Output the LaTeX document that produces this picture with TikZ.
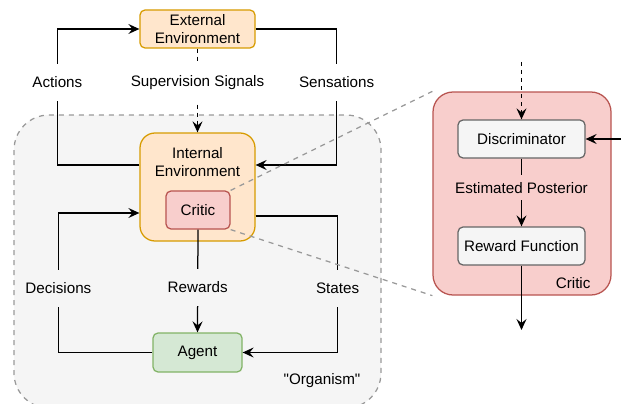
\documentclass[tikz,border=0pt]{standalone}
\usepackage{fontspec}
\newfontfamily\drawfont{Liberation Sans}
\usetikzlibrary{arrows.meta}

\definecolor{envfill}{HTML}{FFE6CC}
\definecolor{envline}{HTML}{D79B00}
\definecolor{criticfill}{HTML}{F8CECC}
\definecolor{criticline}{HTML}{B85450}
\definecolor{agentfill}{HTML}{D5E8D4}
\definecolor{agentline}{HTML}{82B366}
\definecolor{grayfill}{HTML}{F5F5F5}
\definecolor{grayline}{HTML}{666666}

\tikzset{
  box/.style={draw, line width=1.25pt, rounded corners=5pt, inner sep=0pt, align=center},
  envbox/.style={box, fill=envfill, draw=envline},
  criticbox/.style={box, fill=criticfill, draw=criticline},
  agentbox/.style={box, fill=agentfill, draw=agentline},
  graybox/.style={box, fill=grayfill, draw=grayline},
  flow/.style={line width=1.25pt, -{Stealth[length=11pt, width=10pt, inset=4pt]}},
  lbl/.style={fill=white, inner xsep=2pt, inner ysep=0pt, minimum height=37pt},
  zoomline/.style={draw=gray!80, line width=1.25pt, dash pattern=on 5pt off 5pt}
}

\begin{document}
\begin{tikzpicture}[x=1pt, y=-1pt, font=\drawfont\fontsize{15.2}{18}\selectfont]
      \useasboundingbox (0,0) rectangle (621,404);

      % the organism
      \draw[fill=grayfill, draw=gray!80, line width=1.25pt, dash pattern=on 5pt off 5pt,
        rounded corners=35pt] (14,115) rectangle (381,408);
      \node at (322,381) {"Organism"};

      \node[envbox, minimum width=115pt, minimum height=38pt] (extenv) at (197.5,29)
      {External\\Environment};
      \node[envbox, rounded corners=15pt, minimum width=115pt, minimum height=108pt] (intenv)
      at (197.5,187) {};
      \node[align=center] (intlbl) at (197.5,162.5) {Internal\\Environment};
      \node[criticbox, minimum width=64pt, minimum height=38pt] (critic) at (198,210) {Critic};
      \node[agentbox, minimum width=89pt, minimum height=39pt] (agent) at (197.5,352.5) {Agent};

      \path[draw, flow]
      ([yshift=22pt]intenv.west) -- ++(-82,0) |- node[lbl, pos=0.305] {Actions} (extenv.west);
      \path[draw, flow]
      (extenv.east) -- ++(81,0) |- node[lbl, pos=0.195] {Sensations} ([yshift=22pt]intenv.east);
      \path[draw, flow, dash pattern=on 4pt off 4pt]
      (extenv.south) -- node[lbl, pos=0.4] {Supervision Signals} (intenv.north);
      \path[draw, flow]
      (agent.west) -- ++(-94,0) |- node[lbl, fill=grayfill, pos=0.23] {Decisions} ([yshift=-26pt]intenv.west);
      \path[draw, flow]
      ([yshift=-29pt]intenv.east) -- ++(82,0) |- node[lbl, fill=grayfill, pos=0.265] {States} (agent.east);
      \path[draw, flow]
      (critic.south) -- node[lbl, fill=grayfill, pos=0.56] {Rewards} (agent.north);

      % zoom on the critic
      \node[criticbox, rounded corners=20pt, minimum width=178pt, minimum height=203pt] (bigcritic)
      at (522,193.5) {};
      \node[anchor=east] at (594,283) {Critic};
      \node[graybox, minimum width=127pt, minimum height=38pt] (disc) at (521.5,139) {Discriminator};
      \node[graybox, minimum width=127pt, minimum height=38pt] (rewfun) at (521.5,246) {Reward Function};

      \coordinate (sigin) at (521.5,62);
      \coordinate (statein) at (621,139);
      \coordinate (rewout) at (521.5,330);

      \path[draw, flow, dash pattern=on 4pt off 4pt] (sigin) -- (disc.north);
      \path[draw, flow] (statein) -- (disc.east);
      \path[draw, flow] (disc.south) -- node[lbl, fill=criticfill, minimum height=25pt, pos=0.43]
      {Estimated Posterior} (rewfun.north);
      \path[draw, flow] (rewfun.south) -- (rewout);

      \draw[zoomline] (critic.north east) -- (bigcritic.north west);
      \draw[zoomline] (critic.south east) -- (bigcritic.south west);
    \end{tikzpicture}
\end{document}
